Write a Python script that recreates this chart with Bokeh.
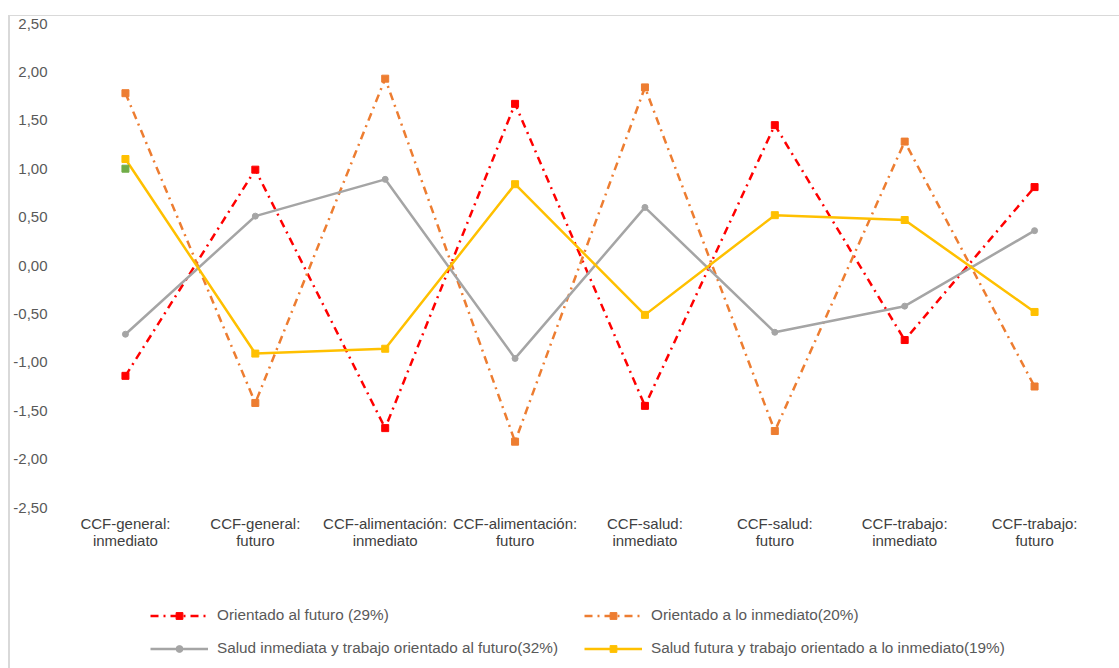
from bokeh.plotting import figure
from bokeh.models import FixedTicker, Legend, LegendItem, Range1d
from bokeh.layouts import column
from bokeh.embed import file_html
from bokeh.resources import INLINE

# Categories (two-line tick labels)
categories = [
    "CCF-general:\ninmediato",
    "CCF-general:\nfuturo",
    "CCF-alimentación:\ninmediato",
    "CCF-alimentación:\nfuturo",
    "CCF-salud:\ninmediato",
    "CCF-salud:\nfuturo",
    "CCF-trabajo:\ninmediato",
    "CCF-trabajo:\nfuturo",
]

# Series values per category
orientado_futuro = [-1.14, 0.99, -1.68, 1.67, -1.45, 1.45, -0.77, 0.81]
orientado_inmediato = [1.78, -1.42, 1.93, -1.82, 1.84, -1.71, 1.28, -1.25]
salud_inmediata = [-0.71, 0.51, 0.89, -0.96, 0.60, -0.69, -0.42, 0.36]
salud_futura = [1.10, -0.91, -0.86, 0.84, -0.51, 0.52, 0.47, -0.48]

# Single stray point on the first category
extra_point_x = [0]
extra_point_y = [1.00]

series_names = [
    "Orientado al futuro (29%)",
    "Orientado a lo inmediato(20%)",
    "Salud inmediata y trabajo orientado al futuro(32%)",
    "Salud futura y trabajo orientado a lo inmediato(19%)",
]

y_ticks = [-2.5, -2.0, -1.5, -1.0, -0.5, 0.0, 0.5, 1.0, 1.5, 2.0, 2.5]
y_tick_labels = ["-2,50", "-2,00", "-1,50", "-1,00", "-0,50", "0,00",
                 "0,50", "1,00", "1,50", "2,00", "2,50"]

xs = list(range(len(categories)))

FONT = "Liberation Sans"
DASHDOT = "8 5 2 5"

# Visual style of each series: line kwargs, marker kwargs
styles = [
    (dict(line_color="#FF0000", line_width=2.5, line_dash=DASHDOT),
     dict(marker="square", size=7, color="#FF0000")),
    (dict(line_color="#ED7D31", line_width=2.5, line_dash=DASHDOT),
     dict(marker="square", size=7, color="#ED7D31")),
    (dict(line_color="#A5A5A5", line_width=2.5),
     dict(marker="circle", size=6, color="#A5A5A5")),
    (dict(line_color="#FFC000", line_width=2.5),
     dict(marker="square", size=7, color="#FFC000")),
]
series_values = [orientado_futuro, orientado_inmediato, salud_inmediata, salud_futura]

# ---------------- main chart ----------------
p = figure(
    width=1109, height=549,
    x_range=Range1d(-0.5, len(categories) - 0.5),
    y_range=Range1d(-2.5, 2.5),
    output_backend="svg", toolbar_location=None,
    min_border_left=49, min_border_right=20, min_border_top=7, min_border_bottom=58,
    outline_line_color=None,
    background_fill_color="white", border_fill_color="white",
)
p.grid.visible = False

p.yaxis.ticker = FixedTicker(ticks=y_ticks)
p.yaxis.major_label_overrides = {t: l for t, l in zip(y_ticks, y_tick_labels)}
p.yaxis.axis_line_color = None
p.yaxis.major_tick_line_color = None
p.yaxis.minor_tick_line_color = None
p.yaxis.major_label_standoff = 7
p.yaxis.major_label_text_font = FONT
p.yaxis.major_label_text_font_size = "15px"
p.yaxis.major_label_text_color = "#595959"

p.xaxis.ticker = FixedTicker(ticks=xs)
p.xaxis.major_label_overrides = {i: c for i, c in zip(xs, categories)}
p.xaxis.axis_line_color = None
p.xaxis.major_tick_line_color = None
p.xaxis.minor_tick_line_color = None
p.xaxis.major_label_standoff = 1
p.xaxis.major_label_text_font = FONT
p.xaxis.major_label_text_font_size = "15px"
p.xaxis.major_label_text_line_height = 1.03
p.xaxis.major_label_text_color = "#404040"

for vals, (lkw, mkw) in zip(series_values, styles):
    p.line(xs, vals, **lkw)
    p.scatter(xs, vals, **mkw)

p.scatter(extra_point_x, extra_point_y, marker="square", size=7, color="#70AD47")

# ---------------- legend strip ----------------
# The series are plotted again here, but the y range keeps them out of view;
# only their legend swatches show.
lg = figure(
    width=1109, height=103,
    x_range=Range1d(-0.5, len(categories) - 0.5), y_range=Range1d(10, 11),
    output_backend="svg", toolbar_location=None,
    x_axis_location=None, y_axis_location=None,
    min_border=0, outline_line_color=None,
    background_fill_color="white", border_fill_color="white",
)
lg.grid.visible = False

# (x, y) of each legend entry's lower-left corner within the strip's frame
legend_spots = [(90, 44), (524, 44), (90, 11), (524, 11)]

for name, vals, (lkw, mkw), spot in zip(series_names, series_values, styles, legend_spots):
    rl = lg.line(xs, vals, **lkw)
    rm = lg.scatter(xs, vals, **mkw)
    leg = Legend(
        items=[LegendItem(label=name, renderers=[rl, rm])],
        location=spot,
        label_text_font=FONT, label_text_font_size="15.3px", label_text_color="#595959",
        glyph_width=58, glyph_height=17, label_height=17, label_standoff=9,
        padding=0, margin=0, spacing=0,
        border_line_color=None, background_fill_alpha=0,
    )
    lg.add_layout(leg, "center")

layout = column(
    p, lg,
    spacing=0,
    margin=(15, 0, 0, 8),
    styles={"border-top": "1px solid #d9d9d9", "border-left": "2px solid #d9d9d9"},
)

open("out.html", "w").write(file_html(layout, INLINE))
